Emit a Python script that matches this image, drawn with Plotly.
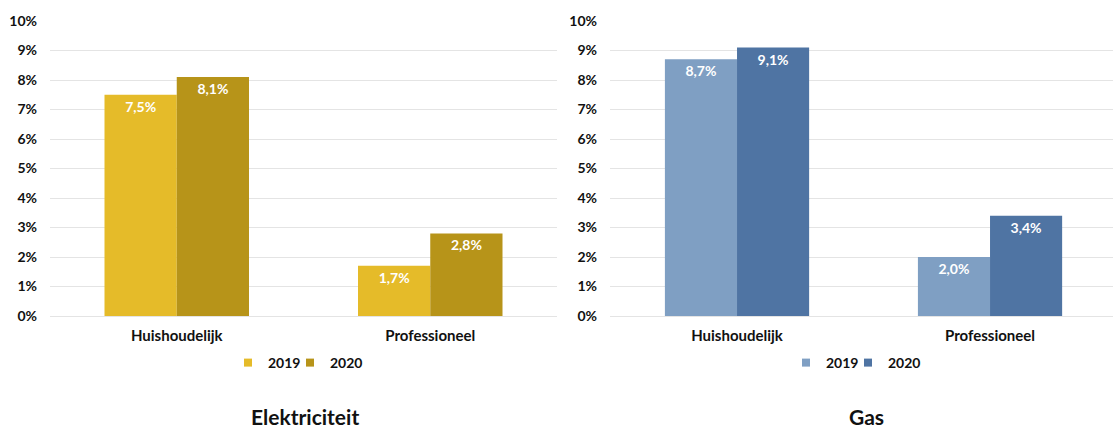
import plotly.graph_objects as go

categories = ["Huishoudelijk", "Professioneel"]
years = ["2019", "2020"]
elek_2019 = [7.5, 1.7]
elek_2020 = [8.1, 2.8]
gas_2019 = [8.7, 2.0]
gas_2020 = [9.1, 3.4]
y_ticks = [0, 1, 2, 3, 4, 5, 6, 7, 8, 9, 10]
y_tick_labels = [f"{t}%" for t in y_ticks]
titles = ["Elektriciteit", "Gas"]

elek_colors = ["#E5BB29", "#B79419"]
gas_colors = ["#7F9FC3", "#4F74A3"]

FONT = "Lato"
INK = "#111111"
W, H = 1113, 428


def fmt(v):
    return f"{v:.1f}".replace(".", ",") + "%"


fig = go.Figure()


def add_group(series_list, colors, xa, ya, legs):
    for series, name, color in zip(series_list, years, colors):
        fig.add_trace(go.Bar(
            x=categories, y=series, name=name, marker_color=color,
            marker_line_width=0, showlegend=False,
            text=[fmt(v) for v in series], textposition="inside",
            insidetextanchor="end", textangle=0,
            textfont=dict(color="white", size=14, family=FONT, weight="bold"),
            xaxis=xa, yaxis=ya,
        ))
    # legend entries with small square swatches
    for name, color, leg in zip(years, colors, legs):
        fig.add_trace(go.Scatter(
            x=[None], y=[None], mode="markers", name=name,
            marker=dict(symbol="square", size=8, color=color),
            xaxis=xa, yaxis=ya, legend=leg, showlegend=True,
        ))


add_group([elek_2019, elek_2020], elek_colors, "x", "y", ["legend", "legend2"])
add_group([gas_2019, gas_2020], gas_colors, "x2", "y2", ["legend3", "legend4"])

yax = dict(
    range=[0, 10], tickvals=y_ticks, ticktext=y_tick_labels,
    showgrid=True, gridcolor="#E4E4E4", gridwidth=1,
    zeroline=True, zerolinecolor="#E4E4E4", zerolinewidth=1,
    showline=False, ticks="", ticklabelstandoff=12, automargin=False,
    tickfont=dict(size=14, family=FONT, color=INK, weight="bold"),
    domain=[1 - 316 / H, 1 - 21 / H], fixedrange=True,
)
xax = dict(
    showgrid=False, showline=False, ticks="", ticklabelstandoff=9,
    automargin=False, fixedrange=True,
    tickfont=dict(size=15, family=FONT, color=INK, weight="bold"),
)


def leg(swatch_x):
    return dict(
        orientation="h", yanchor="middle", xanchor="left",
        x=(swatch_x - 20) / W, y=1 - 363 / H,
        itemwidth=30, itemclick=False, itemdoubleclick=False,
        font=dict(size=14, family=FONT, color=INK, weight="bold"),
        bgcolor="rgba(0,0,0,0)", borderwidth=0,
    )


fig.update_layout(
    width=W, height=H, autosize=False,
    margin=dict(l=0, r=0, t=0, b=0),
    paper_bgcolor="white", plot_bgcolor="white",
    barmode="group", bargap=0.43, bargroupgap=0,
    showlegend=True,
    xaxis=dict(xax, domain=[50 / W, 557 / W], range=[-0.5, 1.5], anchor="y"),
    yaxis=dict(yax, anchor="x"),
    xaxis2=dict(xax, domain=[610 / W, 1.0], range=[-0.502, 1.486], anchor="y2"),
    yaxis2=dict(yax, anchor="x2"),
    legend=leg(248),
    legend2=leg(310),
    legend3=leg(806),
    legend4=leg(868),
    annotations=[
        dict(text=titles[0], x=305 / W, y=1 - 416 / H, xref="paper", yref="paper",
             xanchor="center", yanchor="middle", showarrow=False,
             font=dict(size=21, family=FONT, color=INK, weight="bold")),
        dict(text=titles[1], x=866 / W, y=1 - 416 / H, xref="paper", yref="paper",
             xanchor="center", yanchor="middle", showarrow=False,
             font=dict(size=21, family=FONT, color=INK, weight="bold")),
    ],
)

fig.write_html("out.html")
